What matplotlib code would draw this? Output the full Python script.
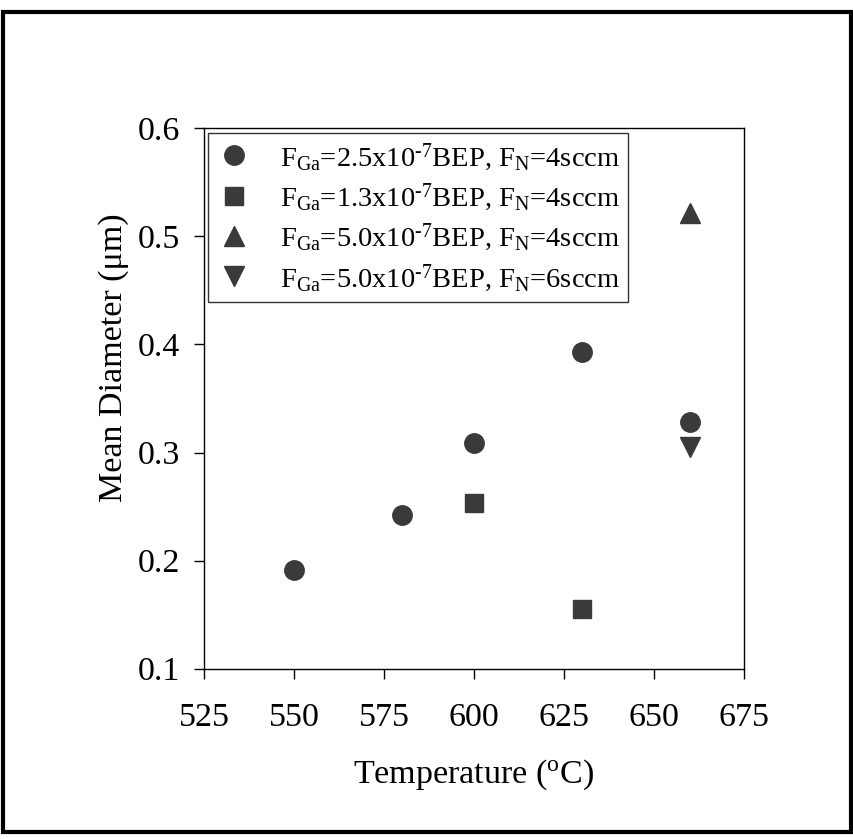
import matplotlib
matplotlib.use("Agg")
import matplotlib.pyplot as plt
from matplotlib.patches import Rectangle

# Data
temp_ga25 = [550, 580, 600, 630, 660]
diam_ga25 = [0.191, 0.242, 0.309, 0.393, 0.328]

temp_ga13 = [600, 630]
diam_ga13 = [0.253, 0.155]

temp_ga50_n4 = [660]
diam_ga50_n4 = [0.522]

temp_ga50_n6 = [660]
diam_ga50_n6 = [0.305]

labels = [
    r"F$_{\rm Ga}$=2.5x10$^{\text{-7}}$BEP, F$_{\rm N}$=4sccm",
    r"F$_{\rm Ga}$=1.3x10$^{\text{-7}}$BEP, F$_{\rm N}$=4sccm",
    r"F$_{\rm Ga}$=5.0x10$^{\text{-7}}$BEP, F$_{\rm N}$=4sccm",
    r"F$_{\rm Ga}$=5.0x10$^{\text{-7}}$BEP, F$_{\rm N}$=6sccm",
]

plt.rcParams["font.family"] = "Liberation Serif"
plt.rcParams["mathtext.fontset"] = "custom"
plt.rcParams["mathtext.rm"] = "Liberation Serif"
plt.rcParams["mathtext.it"] = "Liberation Serif:italic"

mc = "#3a3a3a"

fig = plt.figure(figsize=(8.54, 8.39), dpi=100)
ax = fig.add_axes([0.239, 0.203, 0.632, 0.644])

ax.plot(temp_ga25, diam_ga25, ls="none", marker="o", ms=14, color=mc, label=labels[0])
ax.plot(temp_ga13, diam_ga13, ls="none", marker="s", ms=12.5, color=mc, label=labels[1])
ax.plot(temp_ga50_n4, diam_ga50_n4, ls="none", marker="^", ms=15, color=mc, label=labels[2])
ax.plot(temp_ga50_n6, diam_ga50_n6, ls="none", marker="v", ms=15, color=mc, label=labels[3])

ax.set_xlim(525, 675)
ax.set_ylim(0.1, 0.6)
ax.set_xticks([525, 550, 575, 600, 625, 650, 675])
ax.set_yticks([0.1, 0.2, 0.3, 0.4, 0.5, 0.6])
ax.tick_params(direction="out", length=7, width=1, labelsize=24.5)
ax.tick_params(axis="x", pad=17)
ax.tick_params(axis="y", pad=10)
for s in ax.spines.values():
    s.set_linewidth(1)

ax.set_xlabel(r"Temperature ($^{\rm o}$C)", fontsize=24.5, labelpad=18)
ax.set_ylabel("Mean Diameter (μm)", fontsize=24.5)
ax.yaxis.set_label_coords(-0.14, 0.575)

leg = ax.legend(loc="upper left", fontsize=20.5, frameon=True, fancybox=False,
                borderaxespad=0.15, handletextpad=1.0, labelspacing=0.3,
                borderpad=0.3, handlelength=1.2)
leg.get_frame().set_edgecolor("black")
leg.get_frame().set_linewidth(1)

# outer frame of the scanned figure
fig.patches.append(Rectangle((0.004, 0.008), 0.992, 0.978, transform=fig.transFigure,
                             fill=False, edgecolor="black", linewidth=3))

fig.savefig("out.png", dpi=100)
